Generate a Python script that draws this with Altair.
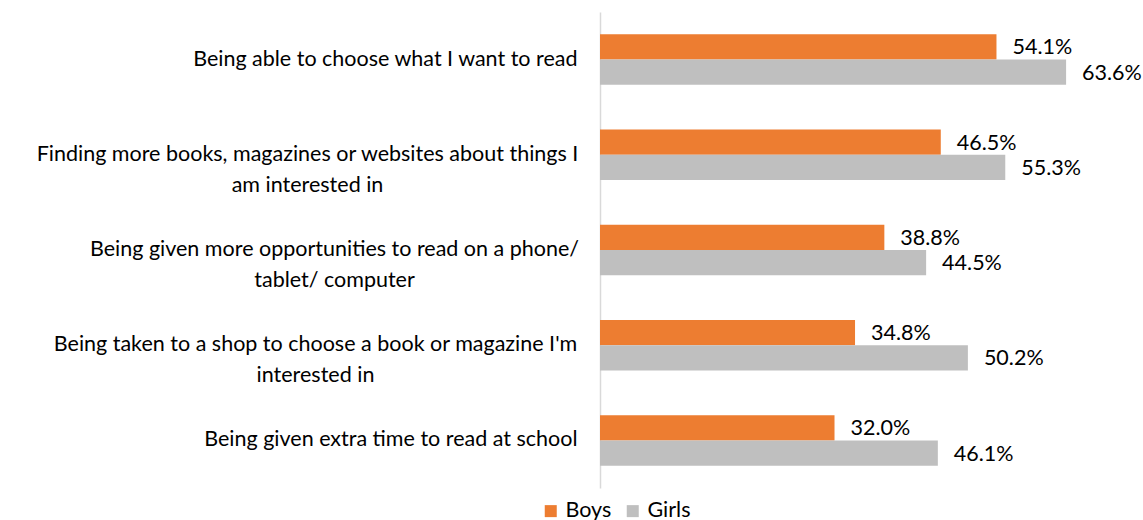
import altair as alt
import pandas as pd

categories = [
    "Being able to choose what I want to read",
    "Finding more books, magazines or websites about things I\nam interested in",
    "Being given more opportunities to read on a phone/\ntablet/ computer",
    "Being taken to a shop to choose a book or magazine I'm\ninterested in",
    "Being given extra time to read at school",
]
boys = [54.1, 46.5, 38.8, 34.8, 32.0]
girls = [63.6, 55.3, 44.5, 50.2, 46.1]
series = ["Boys", "Girls"]
colors = ["#ED7D31", "#BFBFBF"]

rows = []
for c, b, g in zip(categories, boys, girls):
    rows.append({"category": c, "series": "Boys", "value": b})
    rows.append({"category": c, "series": "Girls", "value": g})
df = pd.DataFrame(rows)
df["label"] = df["value"].map(lambda v: f"{v:.1f}%")

FONT = "Lato"
FS = 21.5

# padding (px) for centred two-line labels (so their block is right-aligned)
wrap_pad = {categories[1]: 293, categories[2]: 266, categories[3]: 285}
pad_cond = [{"test": f"datum.value === {c!r}", "value": p} for c, p in wrap_pad.items()]

y_enc = alt.Y(
    "category:N",
    sort=categories,
    scale=alt.Scale(paddingInner=0.47, paddingOuter=0.235),
    axis=alt.Axis(
        title=None,
        ticks=False,
        domainColor="#D9D9D9",
        domainWidth=1.5,
        labelFont=FONT,
        labelFontSize=FS,
        labelColor="black",
        labelLimit=700,
        labelLineHeight=31,
        labelExpr="split(datum.label, '\\n')",
        labelAlign={"condition": {"test": "indexof(datum.value, '\\n') >= 0", "value": "center"}, "value": "right"},
        labelPadding={"condition": pad_cond, "value": 23},
    ),
)

base = alt.Chart(df).encode(
    x=alt.X("value:Q", scale=alt.Scale(domain=[0, 70]), axis=None),
    y=y_enc,
    yOffset=alt.YOffset("series:N", sort=series, scale=alt.Scale(paddingInner=0, paddingOuter=0)),
)

bars = base.mark_bar().encode(
    color=alt.Color(
        "series:N",
        scale=alt.Scale(domain=series, range=colors),
        legend=alt.Legend(
            title=None,
            orient="none",
            direction="horizontal",
            legendX=-60,
            legendY=488,
            symbolType="square",
            symbolSize=144,
            symbolStrokeWidth=0,
            labelFont=FONT,
            labelFontSize=FS,
            labelColor="black",
            labelOffset=4,
            columnPadding=10,
        ),
    )
)

text = base.mark_text(align="left", baseline="middle", dx=16, dy=1.5, font=FONT, fontSize=FS, color="black").encode(
    text="label:N"
)

chart = (
    alt.layer(bars, text)
    .properties(
        width=513,
        height=476,
        autosize=alt.AutoSizeParams(type="none"),
        padding={"left": 600, "top": 12, "right": 30, "bottom": 32},
    )
    .configure_view(stroke=None)
)

chart.save("out.html", embed_options={"renderer": "svg", "actions": False})
